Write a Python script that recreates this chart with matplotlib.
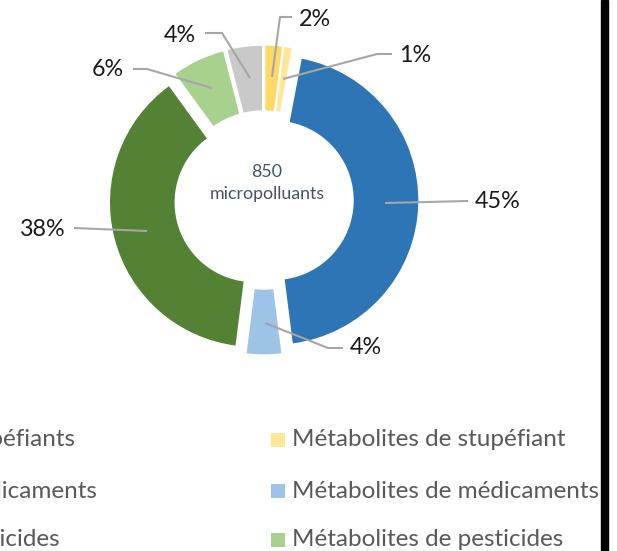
import matplotlib
matplotlib.use('Agg')
import matplotlib.pyplot as plt
from matplotlib.patches import Rectangle

# données (ordre horaire depuis le haut)
categories = ['Stupéfiants', 'Métabolites de stupéfiant', 'Médicaments',
              'Métabolites de médicaments', 'Pesticides',
              'Métabolites de pesticides', 'Autres']
pourcentages = [2, 1, 45, 4, 38, 6, 4]
couleurs = ['#ffd966', '#ffe699', '#2e75b6', '#9dc3e6', '#548235', '#a9d18e', '#c9c9c9']
total = 850

plt.rcParams['font.family'] = ['Lato', 'DejaVu Sans']

W, H = 617, 551
fig = plt.figure(figsize=(W / 100, H / 100), dpi=100)
ax = fig.add_axes([0, 0, 1, 1])

# centre et rayon du donut (en pixels, y vers le haut)
cx, cy, R = 264, H - 200, 145
wedges, _ = ax.pie(pourcentages, colors=couleurs, startangle=90, counterclock=False,
                   center=(cx, cy), radius=R, explode=[10] * len(pourcentages),
                   wedgeprops=dict(width=0.455 * R, edgecolor='white', linewidth=1))

ax.set_xlim(0, W)
ax.set_ylim(0, H)
ax.set_aspect('equal')
ax.axis('off')

ax.text(267, H - 183, f'{total}\nmicropolluants', ha='center', va='center',
        fontsize=12.8, color='#44546a', linespacing=1.5)

# étiquettes avec lignes de rappel
gris = '#a6a6a6'
etiquettes = [
    ('2%', [(272, 77), (280, 17), (292, 17)], (299, 20)),
    ('1%', [(283, 79), (377, 54), (392, 54)], (399, 56)),
    ('45%', [(385, 203), (468, 201)], (475, 202)),
    ('4%', [(265, 323), (328, 348), (343, 348)], (350, 348)),
    ('38%', [(147, 231), (74, 228)], (66, 229)),
    ('6%', [(212, 88), (147, 69), (133, 69)], (124, 70)),
    ('4%', [(250, 78), (222, 33), (205, 33)], (196, 35)),
]
for txt, pts, pos in etiquettes:
    xs = [p[0] for p in pts]
    ys = [H - p[1] for p in pts]
    ax.plot(xs, ys, color=gris, lw=1.5, solid_capstyle='butt')
    ha = 'left' if pos[0] > pts[-1][0] else 'right'
    ax.text(pos[0], H - pos[1], txt, ha=ha, va='center', fontsize=16.8, color='#1a1a1a')

# légende (coupée à gauche)
lignes_y = [440, 491, 540]
gauche = [categories[0], categories[2], categories[4]]
droite = [categories[1], categories[3], categories[5]]
coul_d = [couleurs[1], couleurs[3], couleurs[5]]

# la colonne de gauche commence hors champ : on cale "Stupéfiants" pour qu'il finisse vers x=75
t0 = ax.text(75, H - lignes_y[0], gauche[0], ha='right', va='center', fontsize=17.5, color='#595959')
fig.canvas.draw()
bb = t0.get_window_extent().transformed(ax.transData.inverted())
x_gauche = bb.x0
t0.remove()

for i, y in enumerate(lignes_y):
    ax.text(x_gauche, H - y, gauche[i], ha='left', va='center', fontsize=17.5, color='#595959')
    ax.add_patch(Rectangle((271, H - y - 7), 14, 14, color=coul_d[i], lw=0))
    ax.text(292, H - y, droite[i], ha='left', va='center', fontsize=17.5, color='#595959')

# barre noire à droite
fig.patches.append(Rectangle((601 / W, 0), 7 / W, 1, transform=fig.transFigure,
                             color='black', zorder=10))

fig.savefig('out.png', dpi=100)
